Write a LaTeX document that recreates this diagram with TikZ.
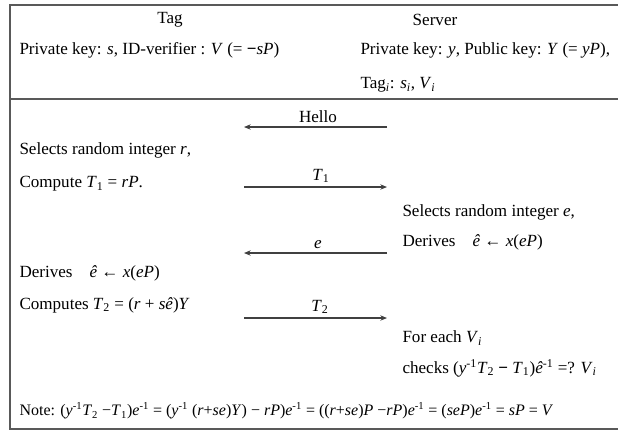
\documentclass[tikz,border=0pt]{standalone}
\usepackage{fontspec}
\setmainfont{Liberation Serif}
\usetikzlibrary{arrows.meta}

\tikzset{every picture/.style={line width=0.75pt}}
\tikzset{
  txt/.style={anchor=west,inner sep=0.75pt,font=\fontsize{12.8}{14}\selectfont},
  lbl/.style={anchor=south,inner sep=0.75pt,font=\fontsize{12.8}{14}\selectfont},
  msg/.style={draw=black!75,line width=0.8pt,-{Stealth[length=5pt,width=4pt]}},
  frame/.style={draw=black!65,line width=1.5pt}
}
\newcommand{\vv}[1]{\textit{#1}}

\begin{document}
\begin{tikzpicture}[x=0.75pt,y=0.75pt,yscale=-1,xscale=1]
\useasboundingbox (0,0) rectangle (618,430);

%Frame
\draw [frame] (9.5,4.5) rectangle (640,429);
\draw [frame] (9.5,99) -- (640,99);

% Header
\draw (170,20) node [txt,anchor=center] (tag) {Tag};
\draw (435,20) node [txt,anchor=center] (server) {Server};
\draw (18,50) node [txt] (tagkey) {Private key: \vv{s}, ID-verifier : \vv{V} (= \textbf{−}\vv{sP})};
\draw (359,50) node [txt] (srvkey) {Private key: \vv{y}, Public key: \vv{Y} (= \vv{yP}),};
\draw (359,85) node [txt] (srvtag) {Tag\textsubscript{\vv{i}}: \vv{s}\textsubscript{\vv{i}}, \vv{V}\textsubscript{\vv{i}}};

% Tag side
\draw (18,150) node [txt] (selr) {Selects random integer \vv{r},};
\draw (18,184) node [txt] (compT1) {Compute \vv{T}\textsubscript{1} = \vv{rP}.};
\draw (18,273) node [txt] (derT) {Derives\quad \vv{ê} ← \vv{x}(\vv{eP})};
\draw (18,305) node [txt] (compT2) {Computes \vv{T}\textsubscript{2} = (\vv{r} + \vv{sê})\vv{Y}};

% Server side
\draw (401,212) node [txt] (sele) {Selects random integer \vv{e},};
\draw (401,242) node [txt] (derS) {Derives\quad \vv{ê} ← \vv{x}(\vv{eP})};
\draw (401,338) node [txt] (foreach) {For each \vv{V}\textsubscript{\vv{i}}};
\draw (401,368) node [txt] (check) {checks (\vv{y}\textsuperscript{-1}\vv{T}\textsubscript{2} \textbf{−} \vv{T}\textsubscript{1})\vv{ê}\textsuperscript{-1} =? \vv{V}\textsubscript{\vv{i}}};

% Messages
\coordinate (helloL) at (244,127);
\coordinate (helloR) at (387,127);
\coordinate (t1L) at (244,187);
\coordinate (t1R) at (387,187);
\coordinate (eL) at (244,253);
\coordinate (eR) at (387,253);
\coordinate (t2L) at (244,318);
\coordinate (t2R) at (387,318);
\draw [msg] (helloR) -- (helloL);
\draw [msg] (t1L) -- (t1R);
\draw [msg] (eR) -- (eL);
\draw [msg] (t2L) -- (t2R);
\draw (318,124) node [lbl] (hello) {Hello};
\draw (321,184) node [lbl] (t1) {\vv{T}\textsubscript{1}};
\draw (318,250) node [lbl] (e) {\vv{e}};
\draw (320,315) node [lbl] (t2) {\vv{T}\textsubscript{2}};

% Note
\draw (18,411) node [txt,font=\fontsize{12}{13}\selectfont] (note) {Note: (\vv{y}\textsuperscript{-1}\vv{T}\textsubscript{2} −\vv{T}\textsubscript{1})\vv{e}\textsuperscript{-1} = (\vv{y}\textsuperscript{-1} (\vv{r}+\vv{se})\vv{Y}) − \vv{rP})\vv{e}\textsuperscript{-1} = ((\vv{r}+\vv{se})\vv{P} −\vv{rP})\vv{e}\textsuperscript{-1} = (\vv{seP})\vv{e}\textsuperscript{-1} = \vv{sP} = \vv{V}};

\end{tikzpicture}
\end{document}
